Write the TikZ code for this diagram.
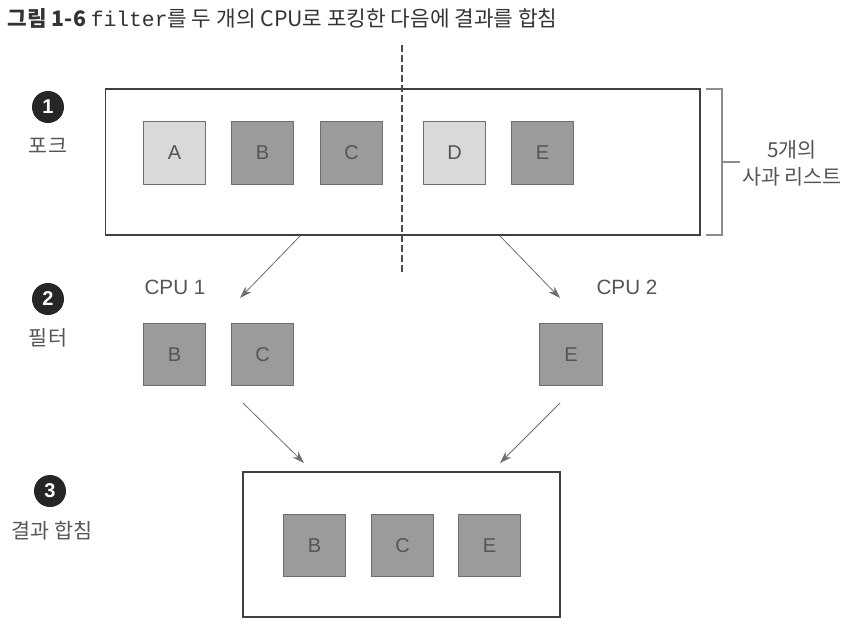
\documentclass[tikz,border=0pt]{standalone}
\usepackage{fontspec}
\setmainfont{Noto Sans CJK KR}
\setmonofont{Liberation Mono}
\newfontfamily\latinfont{Liberation Sans}
\usetikzlibrary{arrows.meta}
\definecolor{darkfill}{HTML}{9B9B9B}
\definecolor{lightfill}{HTML}{D9D9D9}
\definecolor{labelgray}{HTML}{555555}
\definecolor{edgegray}{HTML}{6E6E6E}
\tikzset{
  apple/.style={draw=edgegray, line width=0.8pt, minimum size=47pt, inner sep=0pt,
    text=labelgray, font=\latinfont\fontsize{15}{17}\selectfont},
  darkapple/.style={apple, fill=darkfill},
  lightapple/.style={apple, fill=lightfill},
  bigbox/.style={draw=black!75, line width=1pt, inner sep=0pt},
  stepnum/.style={circle, fill=black!85, text=white, minimum size=24pt, inner sep=0pt,
    font=\latinfont\fontsize{15}{17}\selectfont\bfseries},
  steplabel/.style={text=labelgray, font=\fontsize{15.5}{18}\selectfont},
  cpulabel/.style={text=labelgray, font=\latinfont\fontsize{15.5}{18}\selectfont},
  flow/.style={draw=edgegray, line width=0.6pt, -{Stealth[length=9pt,width=6pt]}}
}
\begin{document}
\begin{tikzpicture}[x=0.75pt,y=-0.75pt]
  \useasboundingbox (0,0) rectangle (860,632);
  % title
  \node[anchor=west, text=black!80, font=\fontsize{16}{18}\selectfont] (title) at (3,18)
    {\textbf{그림 1-6} \texttt{filter}를 두 개의 CPU로 포킹한 다음에 결과를 합침};
  % step markers
  \node[stepnum] (n1) at (48,107) {1};
  \node[steplabel] (l1) at (48,146) {포크};
  \node[stepnum] (n2) at (48,299) {2};
  \node[steplabel] (l2) at (48,338) {필터};
  \node[stepnum] (n3) at (50,491) {3};
  \node[steplabel] (l3) at (52,531) {결과 합침};
  % fork
  \node[bigbox, minimum width=446pt, minimum height=109.5pt] (fork) at (402.5,162) {};
  \node[lightapple] (a1) at (174.5,153) {A};
  \node[darkapple] (b1) at (262.5,153) {B};
  \node[darkapple] (c1) at (351.5,153) {C};
  \node[lightapple] (d1) at (454.5,153) {D};
  \node[darkapple] (e1) at (542.5,153) {E};
  \coordinate (cuttop) at (402,45);
  \coordinate (cutbot) at (402,272);
  \draw[black!70, line width=0.8pt, dash pattern=on 5pt off 2.5pt] (cuttop) -- (cutbot);
  % bracket
  \coordinate (brtop) at (706,89);
  \coordinate (brbot) at (706,235);
  \coordinate (brtip) at (740,162);
  \draw[black!45, line width=0.8pt] (brtop) -- (722,89) -- (722,235) -- (brbot);
  \draw[black!45, line width=0.8pt] (722,162) -- (brtip);
  \node[steplabel, align=center, font=\fontsize{15.5}{20}\selectfont] (listlbl) at (792,163)
    {5개의\\사과 리스트};
  % filter
  \node[cpulabel] (cpu1) at (175,287) {CPU 1};
  \node[cpulabel] (cpu2) at (627,287) {CPU 2};
  \node[darkapple] (b2) at (174.5,354.5) {B};
  \node[darkapple] (c2) at (262.5,354.5) {C};
  \node[darkapple] (e2) at (571,354.5) {E};
  \coordinate (s1) at (300,236);
  \coordinate (t1) at (240,298);
  \coordinate (s2) at (500,236);
  \coordinate (t2) at (560,298);
  \draw[flow] (s1) -- (t1);
  \draw[flow] (s2) -- (t2);
  % merge
  \node[bigbox, minimum width=237.75pt, minimum height=108.75pt] (merge) at (401.5,544.5) {};
  \node[darkapple] (b3) at (314.5,545.5) {B};
  \node[darkapple] (c3) at (402.5,545.5) {C};
  \node[darkapple] (e3) at (489.5,545.5) {E};
  \coordinate (s3) at (243,403);
  \coordinate (t3) at (304,463);
  \coordinate (s4) at (560,403);
  \coordinate (t4) at (500,463);
  \draw[flow] (s3) -- (t3);
  \draw[flow] (s4) -- (t4);
\end{tikzpicture}
\end{document}
